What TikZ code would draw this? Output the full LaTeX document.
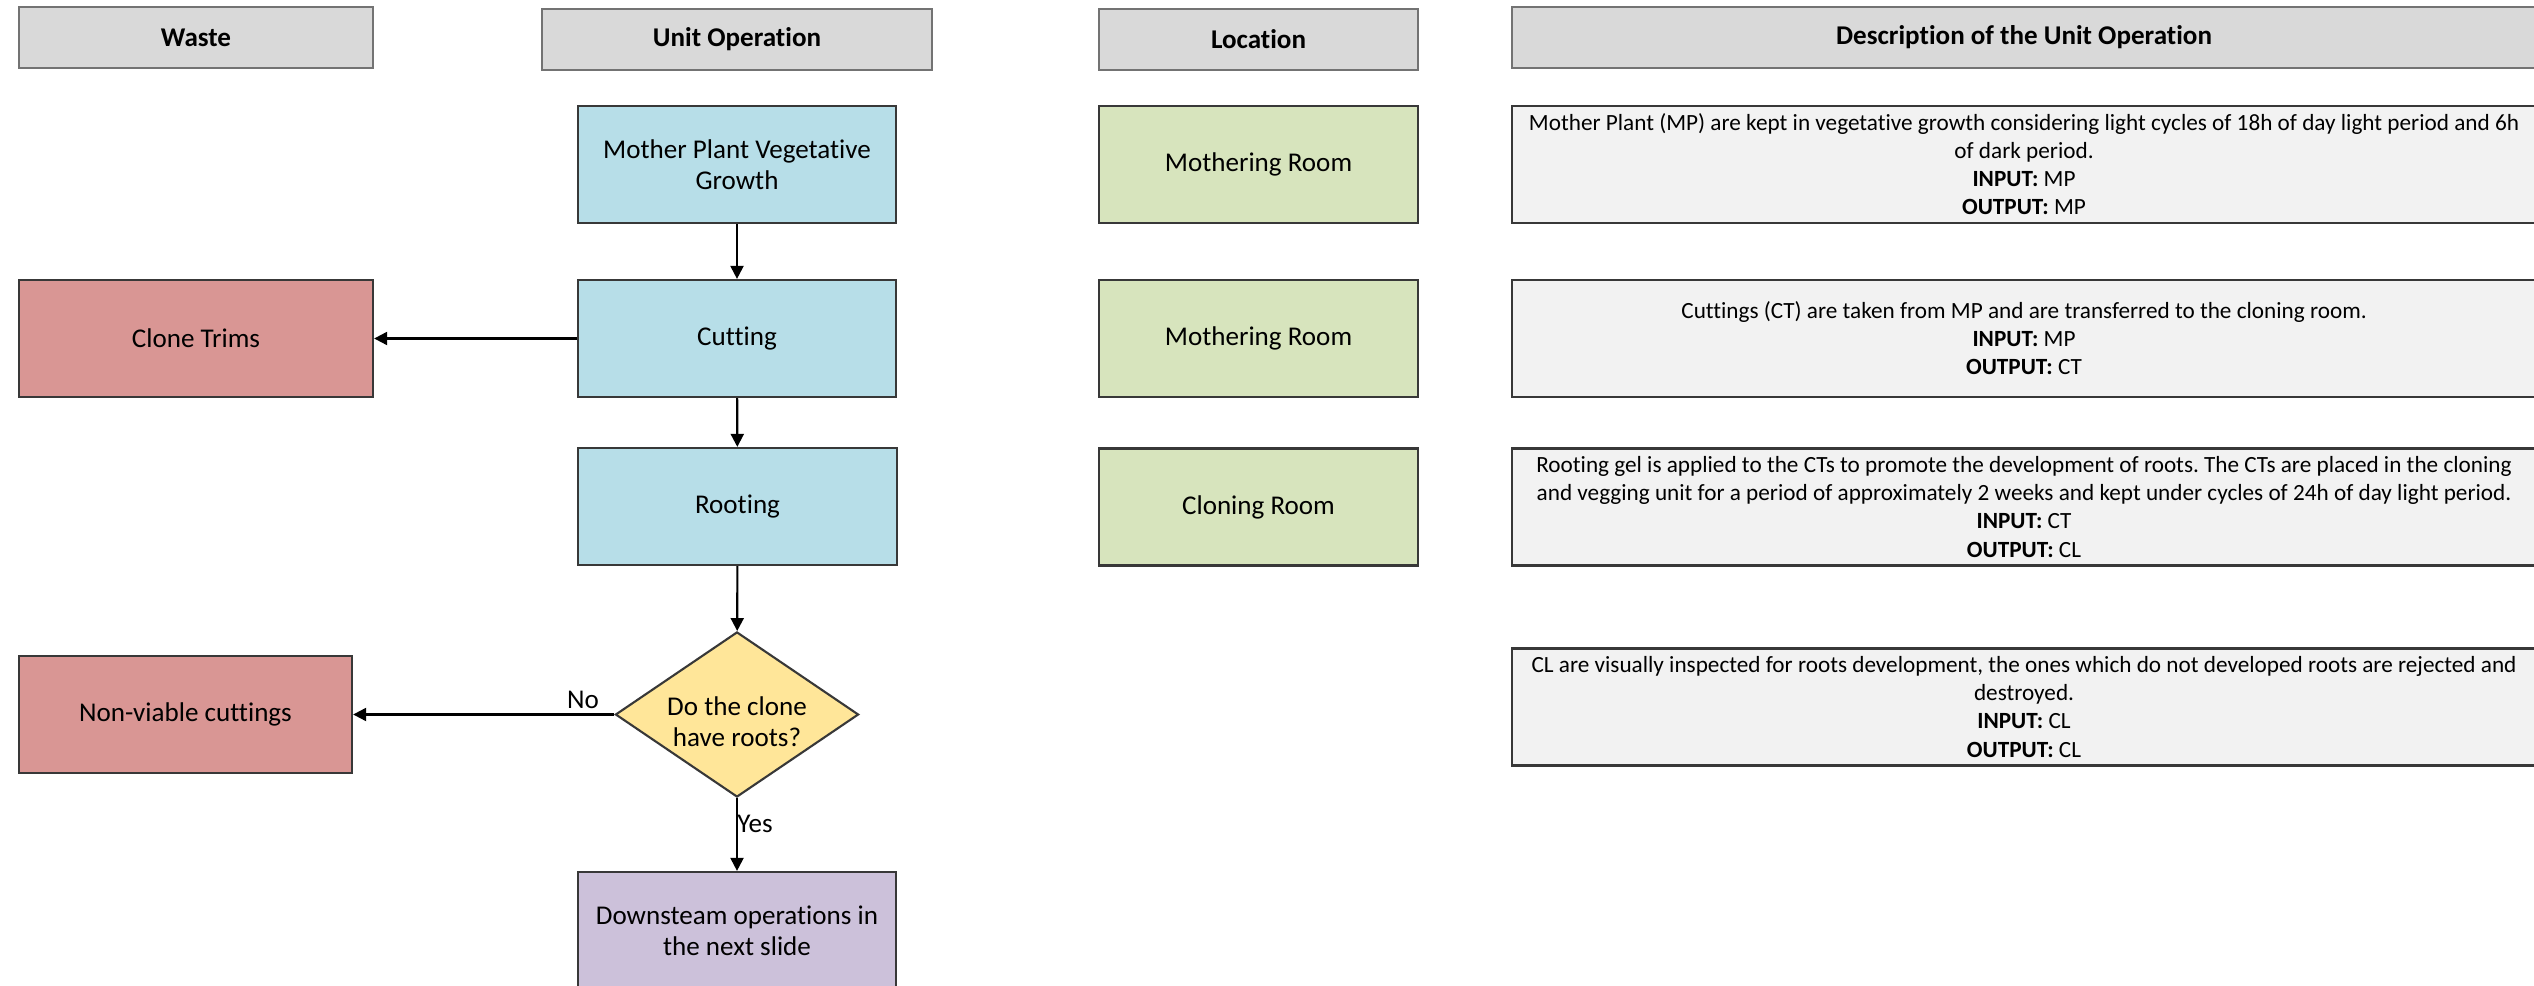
\documentclass[tikz,border=0pt]{standalone}
\usepackage{fontspec}
\setmainfont{Carlito}[Ligatures=NoCommon]
\usetikzlibrary{arrows.meta,shapes.geometric}
\frenchspacing

\definecolor{hdrfill}{HTML}{D9D9D9}
\definecolor{opfill}{HTML}{B7DEE8}
\definecolor{wastefill}{HTML}{D99694}
\definecolor{locfill}{HTML}{D7E4BD}
\definecolor{decfill}{HTML}{FFE699}
\definecolor{nextfill}{HTML}{CCC1DA}
\definecolor{descfill}{HTML}{F2F2F2}

\begin{document}
\begin{tikzpicture}[x=0.01cm, y=-0.01cm,
  boxfont/.style={font=\fontsize{7.7}{8.8}\selectfont},
  box/.style={draw=black!78, line width=0.6pt, inner sep=0pt, align=center,
    minimum height=1.17cm, boxfont},
  hdr/.style={box, draw=black!55, fill=hdrfill, minimum height=0.61cm,
    font=\bfseries\fontsize{7.7}{8.8}\selectfont},
  opbox/.style={box, fill=opfill, minimum width=3.18cm},
  wastebox/.style={box, fill=wastefill},
  locbox/.style={box, fill=locfill, minimum width=3.19cm},
  descbox/.style={box, fill=descfill, minimum width=10.24cm,
    font=\fontsize{6.6}{7.97}\selectfont},
  nextbox/.style={box, fill=nextfill, minimum width=3.18cm},
  decision/.style={diamond, draw=black!78, line width=0.6pt, fill=decfill,
    inner sep=0pt, minimum width=2.43cm, minimum height=1.65cm},
  flow/.style={draw=black, line width=0.6pt,
    -{Triangle[length=0.13cm, width=0.13cm]}},
  flowlabel/.style={inner sep=0pt, boxfont}
]
\useasboundingbox (0,0) rectangle (2534,986);
\clip (0,0) rectangle (2534,986);
\fill[white] (0,0) rectangle (2534,986);

% column headers
\node[hdr, minimum width=3.54cm]  (hWaste) at (196,37.5)   {Waste};
\node[hdr, minimum width=3.90cm]  (hUnit)  at (737,39.5)   {Unit Operation};
\node[hdr, minimum width=3.19cm]  (hLoc)   at (1258.5,39.5) {Location};
\node[hdr, minimum width=10.24cm] (hDesc)  at (2024,37.5)  {Description of the Unit Operation};

% unit operations
\node[opbox] (mother) at (737,164.5) {Mother Plant Vegetative\\Growth};
\node[opbox] (cut)    at (737,338.5) {Cutting};
\node[opbox] (root)   at (737.5,506.5) {Rooting};
\node[decision, label={[boxfont, align=center, yshift=-0.07cm]center:Do the clone\\have roots?}] (dec) at (737,714.5) {};
\node[nextbox] (down) at (737,930.5) {Downsteam operations in\\the next slide};

% waste streams
\node[wastebox, minimum width=3.54cm] (trims) at (196,338.5) {Clone Trims};
\node[wastebox, minimum width=3.33cm] (nonv)  at (185.5,714.5) {Non-viable cuttings};

% locations
\node[locbox] (loc1) at (1258.5,164.5) {Mothering Room};
\node[locbox] (loc2) at (1258.5,338.5) {Mothering Room};
\node[locbox] (loc3) at (1258.5,507)   {Cloning Room};

% descriptions
\node[descbox] (d1) at (2024,164.5) {Mother Plant (MP) are kept in vegetative growth considering light cycles of 18h of day light period and 6h\\of dark period.\\\textbf{INPUT:} MP\\\textbf{OUTPUT:} MP};
\node[descbox] (d2) at (2024,338.5) {Cuttings (CT) are taken from MP and are transferred to the cloning room.\\\textbf{INPUT:} MP\\\textbf{OUTPUT:} CT};
\node[descbox] (d3) at (2024,507) {Rooting gel is applied to the CTs to promote the development of roots. The CTs are placed in the cloning\\and vegging unit for a period of approximately 2 weeks and kept under cycles of 24h of day light period.\\\textbf{INPUT:} CT\\\textbf{OUTPUT:} CL};
\node[descbox] (d4) at (2024,707) {CL are visually inspected for roots development, the ones which do not developed roots are rejected and\\destroyed.\\\textbf{INPUT:} CL\\\textbf{OUTPUT:} CL};

% process flow
\draw[flow] (mother) -- (cut);
\draw[flow] (cut) -- (trims);
\draw[flow] (cut) -- (root);
\draw[flow] (root) -- (dec);
\draw[flow] (dec.west) -- (nonv);
\draw[flow] (dec.south) -- (down);

\node[flowlabel] (lblNo)  at (583,700) {No};
\node[flowlabel] (lblYes) at (755,824) {Yes};
\end{tikzpicture}
\end{document}
